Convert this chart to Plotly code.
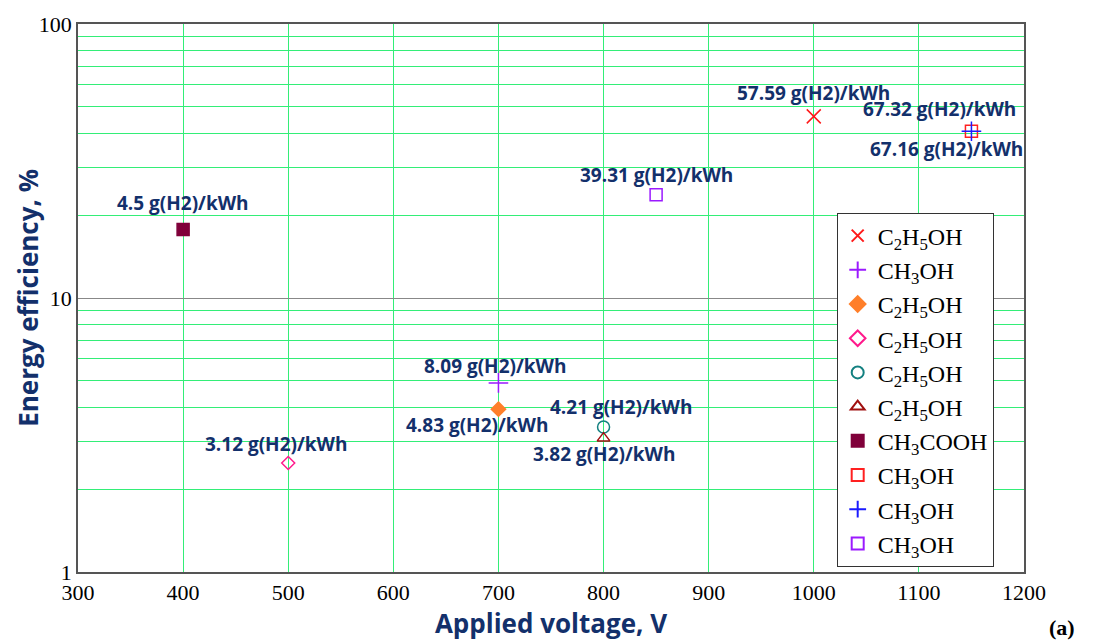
import math
import plotly.graph_objects as go

# Applied voltage (V) and energy efficiency (%) for each reported case
series_names = ["C<sub>2</sub>H<sub>5</sub>OH", "CH<sub>3</sub>OH", "C<sub>2</sub>H<sub>5</sub>OH",
                "C<sub>2</sub>H<sub>5</sub>OH", "C<sub>2</sub>H<sub>5</sub>OH", "C<sub>2</sub>H<sub>5</sub>OH",
                "CH<sub>3</sub>COOH", "CH<sub>3</sub>OH", "CH<sub>3</sub>OH", "CH<sub>3</sub>OH"]
voltage = [1000, 700, 700, 500, 800, 800, 400, 1150, 1150, 850]
efficiency = [46.0, 4.9, 3.93, 2.5, 3.38, 3.08, 17.8, 40.6, 40.6, 23.8]
yield_labels = ["57.59 g(H2)/kWh", "8.09 g(H2)/kWh", "4.83 g(H2)/kWh", "3.12 g(H2)/kWh",
                "4.21 g(H2)/kWh", "3.82 g(H2)/kWh", "4.5 g(H2)/kWh", "67.32 g(H2)/kWh",
                "67.16 g(H2)/kWh", "39.31 g(H2)/kWh"]

symbols = ["x-thin-open", "cross-thin-open", "diamond", "diamond-open", "circle-open",
           "triangle-up-open", "square", "square-open", "cross-thin-open", "square-open"]
colors = ["#ff1a1a", "#9b1aff", "#ff7f2a", "#ff1a8c", "#138080", "#a01010",
          "#80003a", "#ff2020", "#1a1aff", "#9b1aff"]
sizes = [14, 14, 11, 10, 12, 11, 12, 12, 14, 12]
# label offsets (px) relative to each marker
label_shift = [(0, 23), (-3, 17), (-21, -16), (-12, 19), (17, 20), (0, -16),
               (0, 26), (-32, 22), (-25, -18), (0, 20)]

navy = "#13306b"
green = "#33ee77"

fig = go.Figure()
for i in range(len(voltage)):
    fig.add_trace(go.Scatter(
        x=[voltage[i]], y=[efficiency[i]], mode="markers", name=series_names[i],
        marker=dict(symbol=symbols[i], color=colors[i], size=sizes[i],
                    line=dict(color=colors[i], width=1.5)),
    ))
    dx, dy = label_shift[i]
    # annotations on a log axis are positioned in log10 units
    fig.add_annotation(x=voltage[i], y=math.log10(efficiency[i]),
                       text=f"<b>{yield_labels[i]}</b>",
                       showarrow=False, xshift=dx, yshift=dy,
                       font=dict(family="Open Sans", size=19, color=navy))

minor_vals = [v * d for d in (1, 10) for v in range(2, 10)]

fig.update_layout(
    width=1094, height=642,
    margin=dict(l=78, r=70, t=20, b=70),
    paper_bgcolor="white", plot_bgcolor="white",
    showlegend=True,
    legend=dict(x=0.802, y=0.01, xanchor="left", yanchor="bottom",
                bordercolor="#333333", borderwidth=1, bgcolor="white",
                font=dict(family="Liberation Serif", size=24, color="black"),
                tracegroupgap=0, itemsizing="constant"),
    xaxis=dict(range=[300, 1200], dtick=100, tick0=300, showgrid=True, gridcolor=green,
               gridwidth=1, zeroline=False, showline=True, linecolor="#555555",
               linewidth=1.5, mirror=True, ticks="",
               tickfont=dict(family="Liberation Serif", size=22, color="black"),
               title=dict(text="<b>Applied voltage, V</b>", standoff=2,
                          font=dict(family="Open Sans", size=26, color=navy))),
    yaxis=dict(type="log", range=[0, 2], tickvals=[1, 10, 100], ticktext=["1", "10", "100"],
               showgrid=True, gridcolor="#888888", gridwidth=1.2, zeroline=False,
               showline=True, linecolor="#555555", linewidth=1.5, mirror=True, ticks="",
               tickfont=dict(family="Liberation Serif", size=22, color="black"),
               minor=dict(tickvals=minor_vals, showgrid=True, gridcolor=green, gridwidth=1)),
)

# y-axis title placed next to the tick labels
fig.add_annotation(x=-0.053, y=0.5, xref="paper", yref="paper", xanchor="center", yanchor="middle",
                   text="<b>Energy efficiency, %</b>", textangle=-90, showarrow=False,
                   font=dict(family="Open Sans", size=26, color=navy))

fig.add_annotation(x=1.04, y=-0.101, xref="paper", yref="paper", xanchor="center", yanchor="middle",
                   text="<b>(a)</b>", showarrow=False,
                   font=dict(family="Liberation Serif", size=22, color="black"))

fig.write_html("out.html")
